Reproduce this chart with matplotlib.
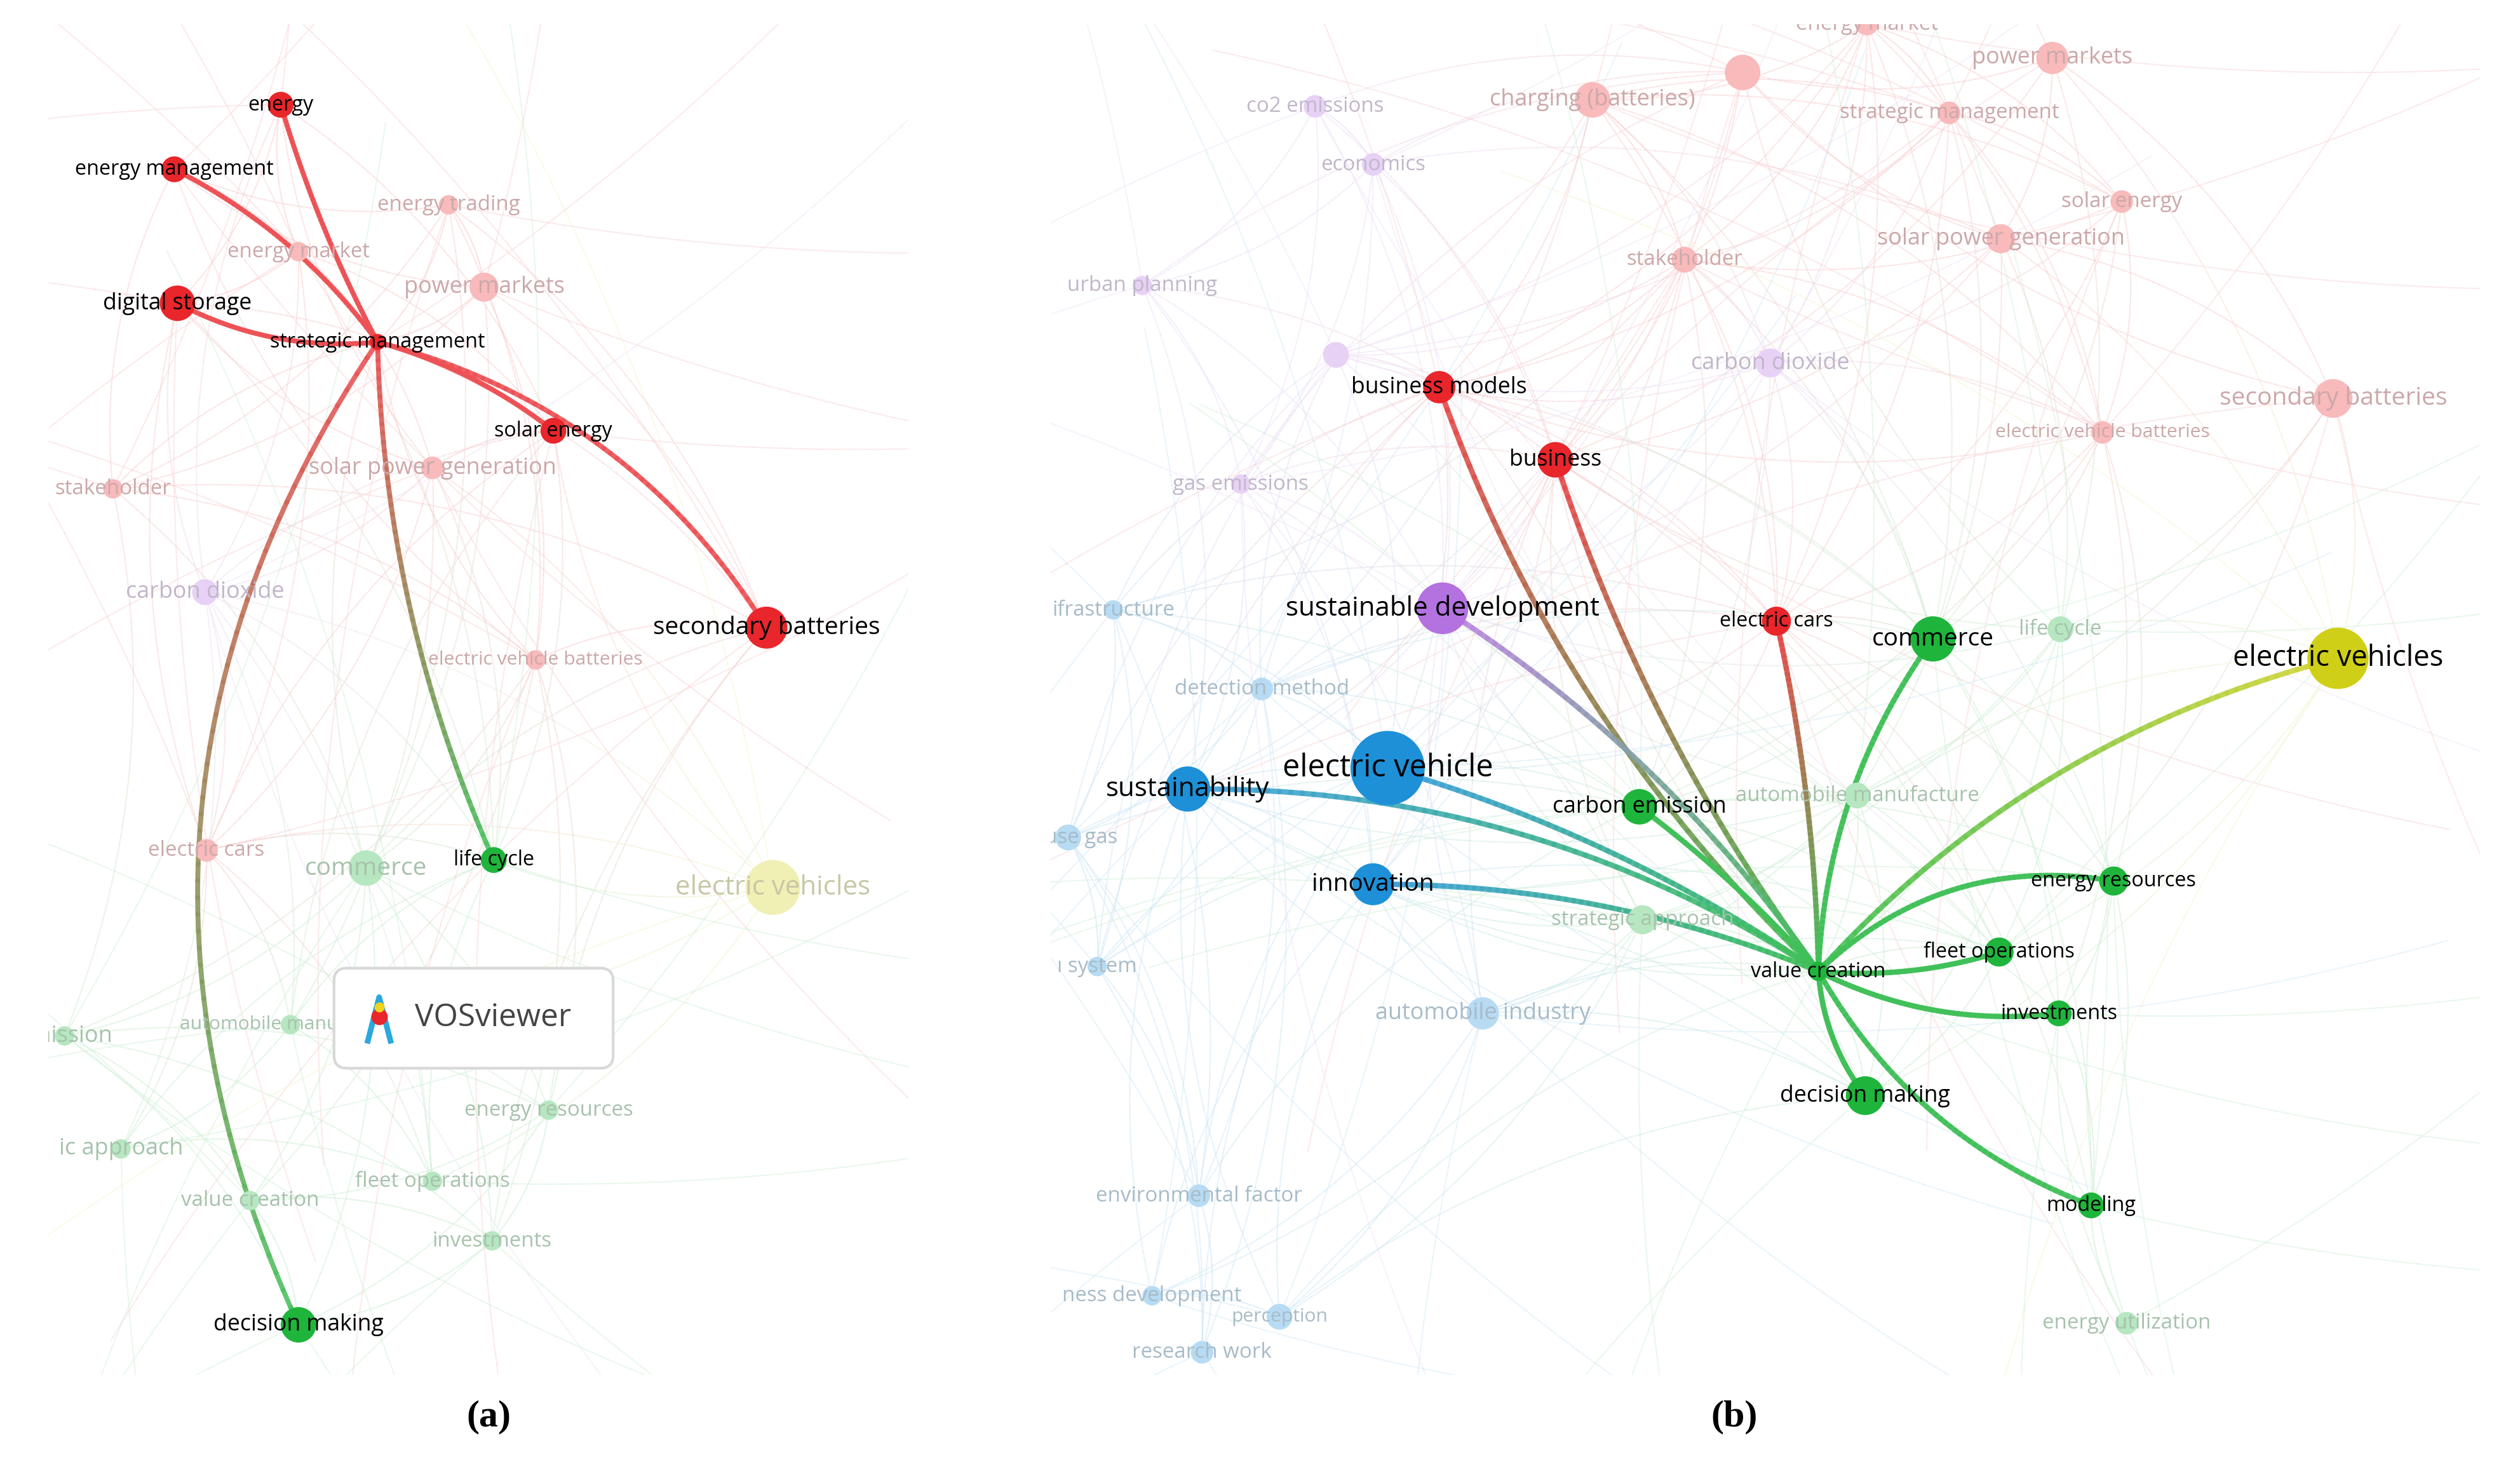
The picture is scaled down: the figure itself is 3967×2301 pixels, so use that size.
import numpy as np
import matplotlib
matplotlib.use("Agg")
import matplotlib.pyplot as plt
from matplotlib.patches import Circle, FancyBboxPatch
from matplotlib.collections import LineCollection
from matplotlib.colors import to_rgb

COL = {"r": "#e8262b", "g": "#1fb53c", "b": "#1e90d8", "p": "#b372e0", "y": "#cfcf18"}

# ---------- panel (a) ----------
a_names = ["energy", "energy management", "digital storage", "strategic management", "solar energy",
           "secondary batteries", "life cycle", "decision making"]
a_x = [174, 108, 110, 234, 343, 475, 306, 185]
a_y = [65, 105, 188, 212, 267, 389, 533, 821]
a_r = [8, 8, 11, 5, 8, 13, 8, 11]
a_c = ["r", "r", "r", "r", "r", "r", "g", "g"]
a_fs = [10, 10, 11, 10, 10, 12, 10, 11]
a_edges = [("strategic management", "energy", -0.05), ("strategic management", "energy management", 0.12),
           ("strategic management", "digital storage", -0.15), ("strategic management", "solar energy", -0.1),
           ("strategic management", "secondary batteries", -0.2), ("strategic management", "life cycle", 0.1),
           ("strategic management", "decision making", 0.28)]

af_names = ["energy trading", "energy market", "power markets", "solar power generation", "stakeholder",
            "carbon dioxide", "electric vehicle batteries", "electric cars", "commerce", "electric vehicles",
            "emission", "automobile manufacture", "energy resources", "ic approach", "value creation",
            "fleet operations", "investments"]
af_x = [278, 185, 300, 268, 70, 127, 332, 128, 227, 479, 40, 180, 340, 75, 155, 268, 305]
af_y = [127, 156, 178, 290, 303, 367, 409, 527, 538, 550, 642, 635, 688, 712, 744, 732, 769]
af_r = [6, 6, 9, 7, 6, 8, 6, 7, 11, 17, 6, 6, 6, 6, 6, 6, 6]
af_c = ["r", "r", "r", "r", "r", "p", "r", "r", "g", "y", "g", "g", "g", "g", "g", "g", "g"]
af_fs = [11, 11, 12, 12, 11, 12, 10, 11, 13, 14, 12, 10, 11, 12, 11, 11, 11]

# ---------- panel (b) ----------
b_names = ["value creation", "business models", "business", "electric cars", "sustainable development",
           "commerce", "electric vehicles", "electric vehicle", "sustainability", "carbon emission",
           "innovation", "energy resources", "fleet operations", "investments", "decision making", "modeling"]
b_x = [1127, 892, 964, 1101, 894, 1198, 1449, 860, 736, 1016, 851, 1310, 1239, 1276, 1156, 1296]
b_y = [602, 240, 285, 385, 377, 396, 408, 476, 489, 500, 548, 546, 590, 628, 679, 747]
b_r = [6, 10, 11, 9, 16, 14, 19, 23, 14, 11, 13, 9, 9, 8, 12, 8]
b_c = ["g", "r", "r", "r", "p", "g", "y", "b", "b", "g", "b", "g", "g", "g", "g", "g"]
b_fs = [10, 11, 11, 10, 13, 12, 14, 15, 13, 11, 12, 10, 10, 10, 11, 10]
b_edges = [("value creation", "business models", -0.12), ("value creation", "business", -0.08),
           ("value creation", "electric cars", 0.05), ("value creation", "sustainable development", 0.1),
           ("value creation", "commerce", -0.15), ("value creation", "electric vehicles", -0.15),
           ("value creation", "electric vehicle", 0.08), ("value creation", "sustainability", 0.15),
           ("value creation", "carbon emission", 0.05), ("value creation", "innovation", 0.1),
           ("value creation", "energy resources", -0.25), ("value creation", "fleet operations", 0.1),
           ("value creation", "investments", 0.15), ("value creation", "decision making", 0.15),
           ("value creation", "modeling", 0.18)]

bf_names = ["energy market", "power markets", "charging (batteries)", "co2 emissions", "strategic management",
            "economics", "solar energy", "solar power generation", "stakeholder", "urban planning",
            "carbon dioxide", "secondary batteries", "electric vehicle batteries", "gas emissions",
            "ifrastructure", "life cycle", "detection method", "automobile manufacture", "house gas",
            "strategic approach", "ı system", "automobile industry", "environmental factor",
            "ness development", "research work", "perception", "energy utilization", "", ""]
bf_x = [1157, 1272, 987, 815, 1208, 851, 1315, 1240, 1044, 708, 1097, 1446, 1303, 769, 690, 1277, 782,
        1151, 662, 1018, 680, 919, 743, 714, 745, 793, 1318, 1080, 828]
bf_y = [15, 36, 62, 66, 70, 102, 125, 148, 161, 177, 225, 247, 268, 300, 378, 390, 427, 493, 519, 570,
        599, 628, 741, 803, 838, 816, 820, 45, 220]
bf_r = [7, 10, 11, 7, 7, 7, 7, 9, 8, 6, 9, 12, 7, 6, 6, 8, 7, 8, 8, 9, 6, 10, 7, 6, 7, 8, 7, 11, 8]
bf_c = ["r", "r", "r", "p", "r", "p", "r", "r", "r", "p", "p", "r", "r", "p", "b", "g", "b", "g", "b",
        "g", "b", "b", "b", "b", "b", "b", "g", "r", "p"]
bf_fs = [11, 12, 12, 11, 11, 11, 11, 12, 11, 11, 12, 13, 10, 11, 11, 11, 11, 11, 11, 11, 11, 12, 11,
         11, 11, 10, 11, 11, 11]

W, H = 1562, 906
fig = plt.figure(figsize=(W / 100, H / 100), dpi=254)
ax0 = fig.add_axes([0, 0, 1, 1])
ax0.set_xlim(0, W); ax0.set_ylim(H, 0); ax0.axis("off")


def panel_axes(x0, y0, w, h):
    a = fig.add_axes([x0 / W, 1 - (y0 + h) / H, w / W, h / H])
    a.set_xlim(x0, x0 + w); a.set_ylim(y0 + h, y0)
    a.axis("off")
    return a


axA = panel_axes(30, 15, 533, 837)
axB = panel_axes(651, 15, 886, 837)


def fade(c, k=0.72):
    r = np.array(to_rgb(COL.get(c, c)))
    return tuple(r + (1 - r) * k)


def bez(p0, p1, bend, n=60):
    p0 = np.array(p0, float); p1 = np.array(p1, float)
    d = p1 - p0
    perp = np.array([-d[1], d[0]])
    c = (p0 + p1) / 2 + perp * bend
    t = np.linspace(0, 1, n)[:, None]
    return (1 - t) ** 2 * p0 + 2 * (1 - t) * t * c + t ** 2 * p1


def grad_edge(ax, p0, p1, c0, c1, bend, lw, alpha, k=0.0):
    pts = bez(p0, p1, bend)
    segs = np.stack([pts[:-1], pts[1:]], axis=1)
    a0 = np.array(fade(c0, k)); a1 = np.array(fade(c1, k))
    t = np.linspace(0, 1, len(segs))[:, None]
    cols = a0 * (1 - t) + a1 * t
    ax.add_collection(LineCollection(segs, colors=cols, linewidths=lw, alpha=alpha,
                                     capstyle="round", zorder=2))


def panel_bg(ax, fx, fy, fc, hx, hy, hc):
    allx = list(fx) + list(hx); ally = list(fy) + list(hy); allc = list(fc) + list(hc)
    n = len(allx)
    for i in range(n):
        for j in range(i + 1, n):
            d = np.hypot(allx[i] - allx[j], ally[i] - ally[j])
            if d < 420 and (i * 7 + j * 3) % 2 == 0:
                grad_edge(ax, (allx[i], ally[i]), (allx[j], ally[j]), allc[i], allc[j],
                          0.15 if (i + j) % 2 else -0.15, 0.6, 0.45, k=0.78)
    for i in range(n):
        for k in range(2):
            ang = (i * 2.39 + k * 1.7) % (2 * np.pi)
            ex = allx[i] + 600 * np.cos(ang); ey = ally[i] + 600 * np.sin(ang)
            grad_edge(ax, (allx[i], ally[i]), (ex, ey), allc[i], allc[i], 0.1, 0.6, 0.45, k=0.8)


def draw_faded(ax, names, xs, ys, rs, cs, fss):
    for n, x, y, r, c, fs in zip(names, xs, ys, rs, cs, fss):
        ax.add_patch(Circle((x, y), r, color=fade(c, 0.68), zorder=3, lw=0))
        if n:
            ax.text(x, y, n, ha="center", va="center", fontsize=fs * 0.85,
                    color=tuple(np.array(fade(c, 0.6)) * 0.45 + 0.55 * np.array(to_rgb("#a8a8a8"))),
                    family="Open Sans", zorder=4, clip_on=True)


def draw_hl(ax, names, xs, ys, rs, cs, fss):
    for n, x, y, r, c, fs in zip(names, xs, ys, rs, cs, fss):
        ax.add_patch(Circle((x, y), r, color=COL[c], zorder=6, lw=0))
        ax.text(x, y, n, ha="center", va="center", fontsize=fs * 0.92, color="black",
                family="Open Sans", zorder=7, clip_on=True)


# panel a
panel_bg(axA, af_x, af_y, af_c, a_x, a_y, a_c)
draw_faded(axA, af_names, af_x, af_y, af_r, af_c, af_fs)
ia = {n: i for i, n in enumerate(a_names)}
for s, t, bend in a_edges:
    i, j = ia[s], ia[t]
    grad_edge(axA, (a_x[i], a_y[i]), (a_x[j], a_y[j]), a_c[i], a_c[j], bend, 2.2, 0.9, k=0.2)
draw_hl(axA, a_names, a_x, a_y, a_r, a_c, a_fs)

# VOSviewer box
axA.add_patch(FancyBboxPatch((207, 600), 173, 62, boxstyle="round,pad=0,rounding_size=8",
                             fc="white", ec="#d8d8d8", lw=1.2, zorder=8))
axA.text(257, 631, "VOSviewer", fontsize=14, color="#444444", va="center", family="Open Sans", zorder=9)
axA.plot([228, 235, 242], [645, 618, 645], color="#2aa8e0", lw=2.5, zorder=9)
axA.scatter([235], [630], s=40, c="#e8262b", zorder=10)
axA.scatter([235], [624], s=12, c="#f2d21a", zorder=11)

# panel b
panel_bg(axB, bf_x, bf_y, bf_c, b_x, b_y, b_c)
draw_faded(axB, bf_names, bf_x, bf_y, bf_r, bf_c, bf_fs)
ib = {n: i for i, n in enumerate(b_names)}
for s, t, bend in b_edges:
    i, j = ib[s], ib[t]
    grad_edge(axB, (b_x[i], b_y[i]), (b_x[j], b_y[j]), b_c[i], b_c[j], bend, 2.4, 0.9, k=0.15)
draw_hl(axB, b_names, b_x, b_y, b_r, b_c, b_fs)

ax0.text(303, 878, "(a)", ha="center", va="center", fontsize=17, family="Liberation Serif", fontweight="bold")
ax0.text(1075, 878, "(b)", ha="center", va="center", fontsize=17, family="Liberation Serif", fontweight="bold")

fig.savefig("out.png", dpi=254, facecolor="white")
